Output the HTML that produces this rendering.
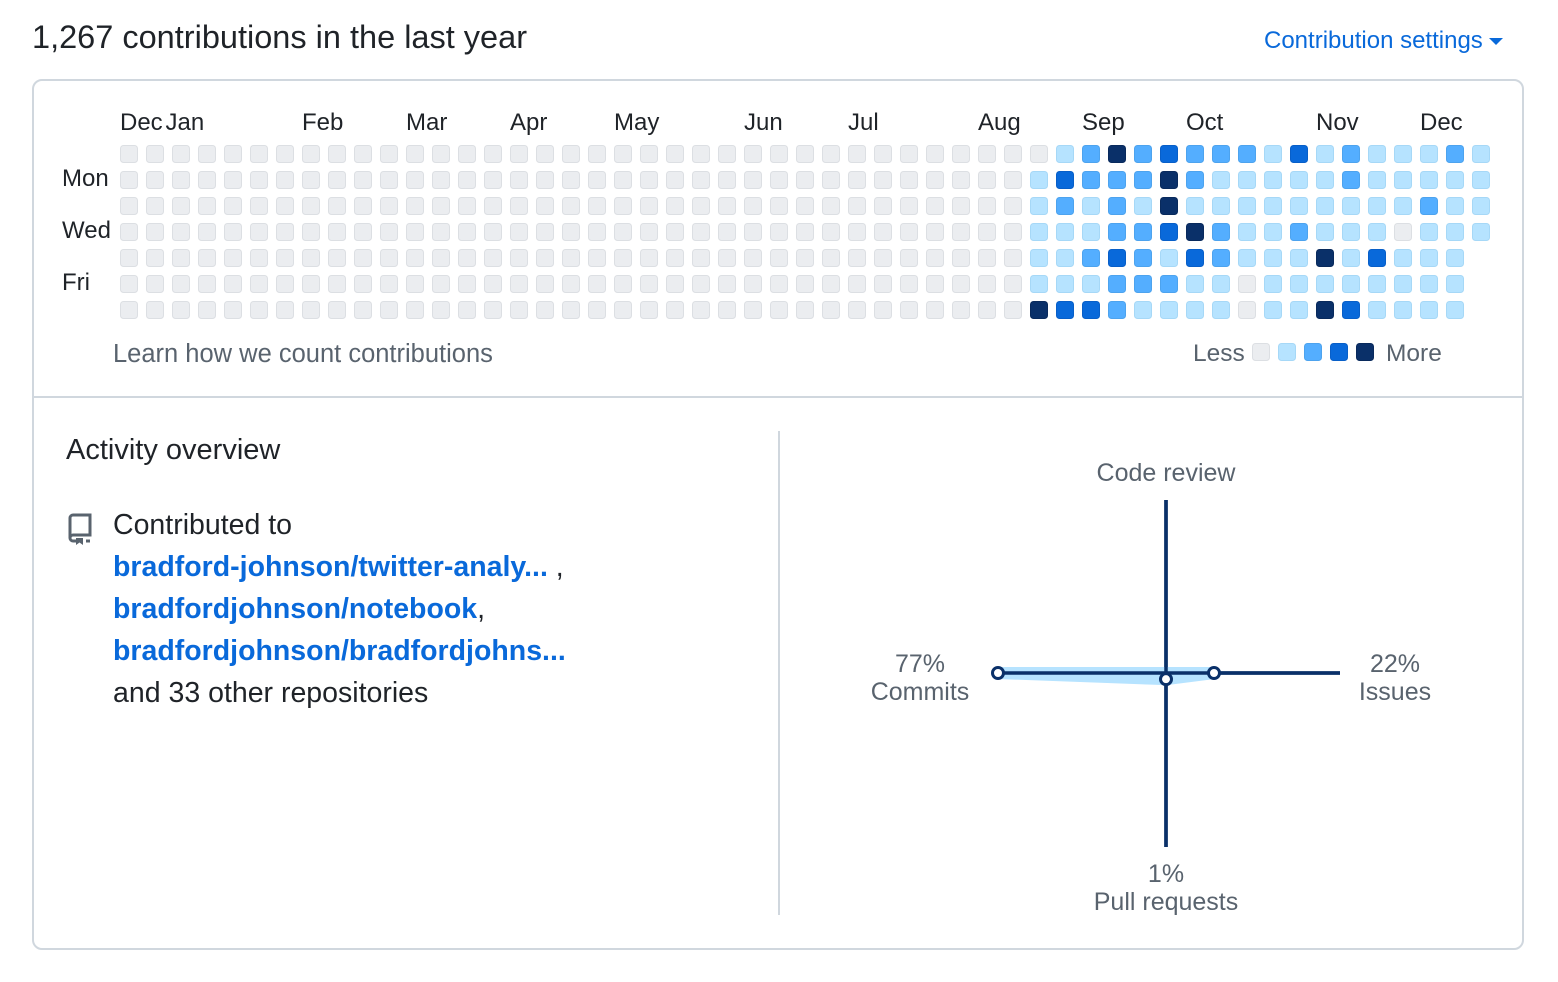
<!DOCTYPE html>
<html><head><meta charset="utf-8"><style>
body{margin:0;width:1558px;height:982px;background:#fff;font-family:"Liberation Sans",sans-serif;color:#1f2328;position:relative;overflow:hidden}
.abs{position:absolute;white-space:nowrap}
a{color:#0969da;text-decoration:none}
</style></head><body>
<div class="abs" style="left:32px;top:19px;font-size:32.5px">1,267 contributions in the last year</div>
<div class="abs" style="left:1264px;top:27px;font-size:24px;color:#0969da">Contribution settings <span style="display:inline-block;border-left:7px solid transparent;border-right:7px solid transparent;border-top:7px solid #0969da;vertical-align:middle"></span></div>
<div class="abs" style="left:32px;top:79px;width:1488px;height:867px;border:2px solid #d0d7de;border-radius:10px"></div>
<div class="abs" style="left:34px;top:396px;width:1488px;height:2px;background:#d0d7de"></div>
<div class="abs" style="left:778px;top:431px;width:2px;height:484px;background:#d0d7de"></div>
<svg class="abs" style="left:0;top:0" width="1558" height="400" id="heat"></svg>
<div class="abs" style="left:113px;top:340px;font-size:25.5px;color:#59636e">Learn how we count contributions</div>
<div class="abs" style="left:1193px;top:340px;font-size:24.5px;color:#59636e">Less</div>
<div class="abs" style="left:1386px;top:340px;font-size:24.5px;color:#59636e">More</div>
<div class="abs" style="left:66px;top:434px;font-size:29px">Activity overview</div>
<svg class="abs" style="left:66px;top:512px" width="30" height="34" viewBox="0 0 30 34"><path d="M4 26V6a3 3 0 0 1 3-3h17v20H7a3 3 0 0 0-3 3 3 3 0 0 0 3 3h3" fill="none" stroke="#59636e" stroke-width="3"/><path d="M10 26h7v7l-3.5-2.5L10 33z" fill="#59636e"/><path d="M20 29h4" stroke="#59636e" stroke-width="3"/></svg>
<div class="abs" style="left:113px;top:504px;font-size:28.5px;line-height:42px">Contributed to<br>
<a style="font-weight:bold">bradford-johnson/twitter-analy...</a> ,<br>
<a style="font-weight:bold">bradfordjohnson/notebook</a>,<br>
<a style="font-weight:bold">bradfordjohnson/bradfordjohns...</a><br>
and 33 other repositories</div>
<svg class="abs" style="left:780px;top:430px" width="740" height="500" id="radar"></svg>
<script>
const months=["Dec","Jan","Feb","Mar","Apr","May","Jun","Jul","Aug","Sep","Oct","Nov","Dec"];
const monthCols=[0,1.75,7,11,15,19,24,28,33,37,41,46,50];
const dayLabels=["Mon","Wed","Fri"];
const dayRows=[1,3,5];
const activeStart=35;
const activeLevels=[
[0,1,2,4,2,3,2,2,2,1,3,1,2,1,1,1,2,1],
[1,3,2,2,2,4,2,1,1,1,1,1,2,1,1,1,1,1],
[1,2,1,2,1,4,1,1,1,1,1,1,1,1,1,2,1,1],
[1,1,1,2,2,3,4,2,1,1,2,1,1,1,0,1,1,1],
[1,1,2,3,2,1,3,2,1,1,1,4,1,3,1,1,1],
[1,1,1,2,2,2,1,1,0,1,1,1,1,1,1,1,1],
[4,3,3,2,1,1,1,1,0,1,1,4,3,1,1,1,1]];
const colors=["#ebedf0","#b6e3ff","#54aeff","#0969da","#0a3069"];
const borders=["#dcdfe3","#a6d8f7","#4da3ee","#085fc8","#092a5c"];
const NS="http://www.w3.org/2000/svg";
const heat=document.getElementById('heat');
const x0=120,y0=145,pitch=26,sz=18;
function cx(c){return x0+c*pitch;}
function cy(r){return y0+r*pitch;}
function mk(tag,attrs,parent){const e=document.createElementNS(NS,tag);for(const k in attrs)e.setAttribute(k,attrs[k]);parent.appendChild(e);return e;}
for(let r=0;r<7;r++){
  const total=activeStart+activeLevels[r].length;
  for(let c=0;c<total;c++){
    const lv=c<activeStart?0:activeLevels[r][c-activeStart];
    const e=mk('rect',{x:cx(c)+0.5,y:cy(r)+0.5,width:sz-1,height:sz-1,rx:3,fill:colors[lv],stroke:borders[lv]},heat);
    
    
  }
}
months.forEach((m,i)=>{const t=mk('text',{x:cx(monthCols[i]),y:130,'font-size':24,fill:'#1f2328','font-family':'Liberation Sans'},heat);t.textContent=m;

});
dayLabels.forEach((d,i)=>{const t=mk('text',{x:62,y:cy(dayRows[i])+15,'font-size':24,fill:'#1f2328','font-family':'Liberation Sans'},heat);t.textContent=d;

});
for(let i=0;i<5;i++){const e=mk('rect',{x:1252.5+i*26,y:343.5,width:17,height:17,rx:3,fill:colors[i],stroke:borders[i]},heat);

}

// radar
const radarLabels=["Code review","Issues","Pull requests","Commits"];
const radarValues=[0,22,1,77];
const radar=document.getElementById('radar');
const RX=386,RY=243,R=168;
const dirs=[[0,-1],[1,0],[0,1],[-1,0]];
const maxV=Math.max(...radarValues);
mk('line',{x1:RX,y1:RY-R-5,x2:RX,y2:RY+R+6,stroke:'#0a3069','stroke-width':3.5},radar);
mk('line',{x1:RX-R,y1:RY,x2:RX+R+6,y2:RY,stroke:'#0a3069','stroke-width':3.5},radar);
const pts=radarValues.map((v,i)=>[RX+dirs[i][0]*v/maxV*R,RY+dirs[i][1]*v/maxV*R+(i===2?4:0)]);
const poly=mk('polygon',{points:pts.map(p=>p.join(',')).join(' '),fill:'#b6e3ff',stroke:'#b6e3ff','stroke-width':12,'stroke-linejoin':'round'},radar);


mk('line',{x1:pts[3][0],y1:RY,x2:RX+R+6,y2:RY,stroke:'#0a3069','stroke-width':3.5},radar);
mk('line',{x1:RX,y1:RY-R-5,x2:RX,y2:RY+R+6,stroke:'#0a3069','stroke-width':3.5},radar);
pts.forEach((p,i)=>{if(radarValues[i]===0)return;const c=mk('circle',{cx:p[0],cy:p[1],r:5.5,fill:'#fff',stroke:'#0a3069','stroke-width':3},radar);

});
function lbl(x,y,txt,name){const t=mk('text',{x:x,y:y,'font-size':25,fill:'#59636e','text-anchor':'middle','font-family':'Liberation Sans'},radar);t.textContent=txt;

}
lbl(RX,51,radarLabels[0],'label-code-review');
lbl(RX+229,242,radarValues[1]+'%','pct-issues');lbl(RX+229,270,radarLabels[1],'label-issues');
lbl(RX,452,radarValues[2]+'%','pct-pull-requests');lbl(RX,480,radarLabels[2],'label-pull-requests');
lbl(RX-246,242,radarValues[3]+'%','pct-commits');lbl(RX-246,270,radarLabels[3],'label-commits');
</script>
</body></html>
